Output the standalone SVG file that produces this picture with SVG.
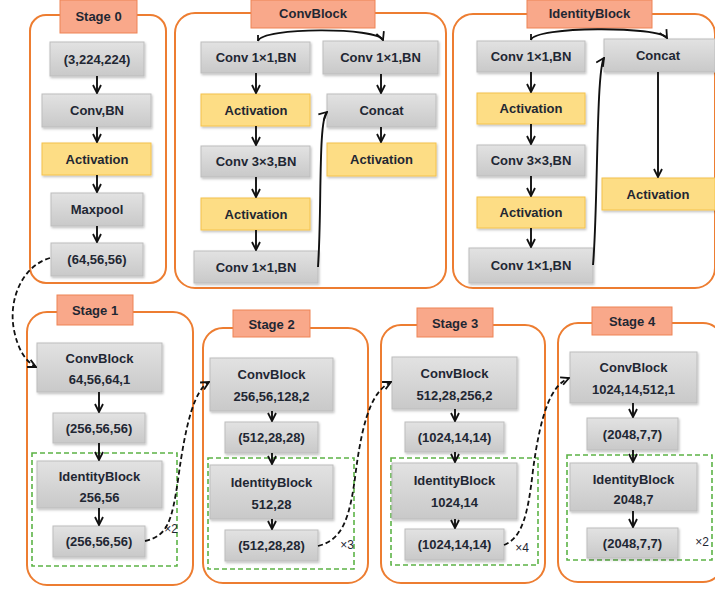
<svg xmlns="http://www.w3.org/2000/svg" width="715" height="590" viewBox="0 0 715 590">
<style>
.cont{fill:#ffffff;stroke:#ed7d31;stroke-width:2}
.title{fill:#f9a88a;stroke:#ee8355;stroke-width:1}
.g{fill:url(#gg);stroke:#bdbdbd;stroke-width:1;filter:url(#sh)}
.y{fill:#fddd85;stroke:#f4c24a;stroke-width:1;filter:url(#sh)}
.dash{fill:none;stroke:#5cb346;stroke-width:1.6;stroke-dasharray:5,3}
text{font-family:"Liberation Sans",Arial,sans-serif;font-weight:bold;font-size:13px;fill:#1f2733;text-anchor:middle;dominant-baseline:central}
.ar{fill:none;stroke:#111;stroke-width:1.9;marker-end:url(#ah)}
.dl{fill:none;stroke:#111;stroke-width:1.8;stroke-dasharray:5,3;marker-end:url(#ah)}
.sm{font-size:12px;font-weight:normal}
</style>
<defs>
<linearGradient id="gg" x1="0" y1="0" x2="0" y2="1">
<stop offset="0" stop-color="#e2e2e2"/>
<stop offset="1" stop-color="#c9c9c9"/>
</linearGradient>
<filter id="sh" x="-10%" y="-10%" width="125%" height="135%">
<feDropShadow dx="1" dy="1.5" stdDeviation="1" flood-color="#000" flood-opacity="0.25"/>
</filter>
<marker id="ah" viewBox="0 0 10 10" refX="9" refY="5" markerWidth="10" markerHeight="10" markerUnits="userSpaceOnUse" orient="auto">
<path d="M1,1 L9,5 L1,9" fill="none" stroke="#111" stroke-width="1.8"/>
</marker>
</defs>
<rect width="715" height="590" fill="#ffffff"/>

<!-- Stage 0 -->
<g id="stage0">
<rect class="cont" x="30" y="15" width="136" height="268" rx="16"/>
<rect class="title" x="60" y="0" width="77" height="33"/>
<text x="98.5" y="16">Stage 0</text>
<rect class="g" x="50" y="42" width="94" height="34"/><text x="97" y="59">(3,224,224)</text>
<rect class="g" x="42" y="94" width="109" height="33"/><text x="97" y="110.5">Conv,BN</text>
<rect class="y" x="42" y="143" width="109" height="32"/><text x="97" y="159">Activation</text>
<rect class="g" x="51" y="193" width="92" height="33"/><text x="97" y="209.5">Maxpool</text>
<rect class="g" x="51" y="243" width="92" height="33"/><text x="97" y="259.5">(64,56,56)</text>
</g>

<!-- ConvBlock -->
<g id="convblock">
<rect class="cont" x="175" y="13" width="271" height="275" rx="20"/>
<rect class="title" x="251" y="0" width="124" height="28"/>
<text x="313" y="13">ConvBlock</text>
<rect class="g" x="201" y="42" width="109" height="31"/><text x="256" y="57.5">Conv 1×1,BN</text>
<rect class="y" x="201" y="94" width="109" height="32"/><text x="256" y="110">Activation</text>
<rect class="g" x="201" y="146" width="109" height="31"/><text x="256" y="161.5">Conv 3×3,BN</text>
<rect class="y" x="201" y="198" width="109" height="32"/><text x="256" y="214">Activation</text>
<rect class="g" x="194" y="251" width="124" height="32"/><text x="256" y="267">Conv 1×1,BN</text>
<rect class="g" x="323" y="41" width="115" height="33"/><text x="380.5" y="57.5">Conv 1×1,BN</text>
<rect class="g" x="327" y="94" width="109" height="33"/><text x="381.5" y="110.5">Concat</text>
<rect class="y" x="327" y="143" width="109" height="33"/><text x="381.5" y="159.5">Activation</text>
</g>

<!-- IdentityBlock -->
<g id="identityblock">
<rect class="cont" x="453" y="14" width="262" height="274" rx="20"/>
<rect class="title" x="527" y="0" width="125" height="28"/>
<text x="589.5" y="13">IdentityBlock</text>
<rect class="g" x="477" y="41" width="108" height="31"/><text x="531" y="56.5">Conv 1×1,BN</text>
<rect class="y" x="477" y="93" width="108" height="31"/><text x="531" y="108.5">Activation</text>
<rect class="g" x="477" y="145" width="108" height="31"/><text x="531" y="160.5">Conv 3×3,BN</text>
<rect class="y" x="477" y="197" width="108" height="31"/><text x="531" y="212.5">Activation</text>
<rect class="g" x="469" y="248" width="124" height="35"/><text x="531" y="265.5">Conv 1×1,BN</text>
<rect class="g" x="604" y="39" width="111" height="33"/><text x="658" y="55.5">Concat</text>
<rect class="y" x="602" y="178" width="113" height="32"/><text x="658" y="194">Activation</text>
</g>

<!-- Stage 1 -->
<g id="stage1">
<rect class="cont" x="27" y="312" width="166" height="273" rx="20"/>
<rect class="title" x="57" y="295" width="76" height="30"/>
<text x="95" y="310">Stage 1</text>
<rect class="g" x="37" y="343" width="125" height="49"/><text x="99.5" y="358">ConvBlock</text><text x="99.5" y="379">64,56,64,1</text>
<rect class="g" x="53" y="413" width="92" height="30"/><text x="99" y="428">(256,56,56)</text>
<rect class="dash" x="32" y="453" width="145" height="113"/>
<rect class="g" x="37" y="461" width="125" height="47"/><text x="99.5" y="476">IdentityBlock</text><text x="99.5" y="497">256,56</text>
<rect class="g" x="53" y="526" width="92" height="31"/><text x="99" y="541.5">(256,56,56)</text>
<text class="sm" x="171" y="529">×2</text>
</g>

<!-- Stage 2 -->
<g id="stage2">
<rect class="cont" x="203" y="328" width="165" height="255" rx="20"/>
<rect class="title" x="233" y="310" width="77" height="27"/>
<text x="271.5" y="324">Stage 2</text>
<rect class="g" x="210" y="358" width="123" height="53"/><text x="271.5" y="374">ConvBlock</text><text x="271.5" y="396">256,56,128,2</text>
<rect class="g" x="225" y="422" width="93" height="31"/><text x="271.5" y="437.5">(512,28,28)</text>
<rect class="dash" x="208" y="458" width="146" height="111"/>
<rect class="g" x="210" y="465" width="123" height="54"/><text x="271.5" y="482">IdentityBlock</text><text x="271.5" y="504">512,28</text>
<rect class="g" x="225" y="530" width="93" height="31"/><text x="271.5" y="545.5">(512,28,28)</text>
<text class="sm" x="347" y="545">×3</text>
</g>

<!-- Stage 3 -->
<g id="stage3">
<rect class="cont" x="381" y="325" width="164" height="258" rx="20"/>
<rect class="title" x="417" y="308" width="76" height="29"/>
<text x="455" y="323">Stage 3</text>
<rect class="g" x="392" y="357" width="125" height="52"/><text x="454.5" y="373">ConvBlock</text><text x="454.5" y="395">512,28,256,2</text>
<rect class="g" x="405" y="422" width="99" height="30"/><text x="454.5" y="437">(1024,14,14)</text>
<rect class="dash" x="391" y="458" width="147" height="107"/>
<rect class="g" x="392" y="463" width="125" height="56"/><text x="454.5" y="480">IdentityBlock</text><text x="454.5" y="502">1024,14</text>
<rect class="g" x="405" y="529" width="99" height="31"/><text x="454.5" y="544.5">(1024,14,14)</text>
<text class="sm" x="522" y="548">×4</text>
</g>

<!-- Stage 4 -->
<g id="stage4">
<rect class="cont" x="558" y="323" width="165" height="259" rx="20"/>
<rect class="title" x="592" y="307" width="80" height="28"/>
<text x="632" y="321">Stage 4</text>
<rect class="g" x="570" y="352" width="127" height="51"/><text x="633.5" y="367">ConvBlock</text><text x="633.5" y="389">1024,14,512,1</text>
<rect class="g" x="587" y="418" width="91" height="32"/><text x="632.5" y="434">(2048,7,7)</text>
<rect class="dash" x="567" y="455" width="145" height="105"/>
<rect class="g" x="570" y="463" width="127" height="48"/><text x="633.5" y="479">IdentityBlock</text><text x="633.5" y="499">2048,7</text>
<rect class="g" x="587" y="528" width="91" height="30"/><text x="632.5" y="543">(2048,7,7)</text>
<text class="sm" x="702" y="542">×2</text>
</g>

<g id="connectors">
<!-- Stage 0 -->
<line class="ar" x1="97" y1="76" x2="97" y2="93"/>
<line class="ar" x1="97" y1="127" x2="97" y2="142"/>
<line class="ar" x1="97" y1="175" x2="97" y2="192"/>
<line class="ar" x1="97" y1="226" x2="97" y2="242"/>
<!-- ConvBlock -->
<line class="ar" x1="256" y1="73" x2="256" y2="93"/>
<line class="ar" x1="256" y1="126" x2="256" y2="145"/>
<line class="ar" x1="256" y1="177" x2="256" y2="197"/>
<line class="ar" x1="256" y1="230" x2="256" y2="250"/>
<line class="ar" x1="381" y1="74" x2="381" y2="93"/>
<line class="ar" x1="381" y1="127" x2="381" y2="142"/>
<path class="ar" d="M258,41 C262,27 378,27 383,40"/>
<path d="M258,41 L258,35" fill="none" stroke="#111" stroke-width="1.8"/>
<path class="ar" d="M318,267 C322,210 318,120 327,112"/>
<!-- IdentityBlock -->
<line class="ar" x1="531" y1="72" x2="531" y2="92"/>
<line class="ar" x1="531" y1="124" x2="531" y2="144"/>
<line class="ar" x1="531" y1="176" x2="531" y2="196"/>
<line class="ar" x1="531" y1="228" x2="531" y2="247"/>
<line class="ar" x1="658" y1="72" x2="658" y2="177"/>
<path class="ar" d="M531,40 C534,26 660,26 667,38"/>
<path d="M531,40 L531,34" fill="none" stroke="#111" stroke-width="1.8"/>
<path class="ar" d="M593,265 C598,210 596,70 604,58"/>
<!-- Stage 1 -->
<line class="ar" x1="99" y1="392" x2="99" y2="412"/>
<line class="ar" x1="99" y1="443" x2="99" y2="460"/>
<line class="ar" x1="99" y1="508" x2="99" y2="525"/>
<!-- Stage 2 -->
<line class="ar" x1="272" y1="411" x2="272" y2="421"/>
<line class="ar" x1="272" y1="453" x2="272" y2="464"/>
<line class="ar" x1="272" y1="519" x2="272" y2="529"/>
<!-- Stage 3 -->
<line class="ar" x1="455" y1="409" x2="455" y2="421"/>
<line class="ar" x1="455" y1="452" x2="455" y2="462"/>
<line class="ar" x1="455" y1="519" x2="455" y2="528"/>
<!-- Stage 4 -->
<line class="ar" x1="633" y1="403" x2="633" y2="417"/>
<line class="ar" x1="633" y1="450" x2="633" y2="462"/>
<line class="ar" x1="633" y1="511" x2="633" y2="527"/>
<!-- dashed stage links -->
<path class="dl" d="M50,258 C22,266 8,300 14,330 C18,350 26,362 36,367"/>
<path class="dl" d="M145,541 C168,536 172,520 178,480 C186,420 195,390 209,382"/>
<path class="dl" d="M318,546 C342,540 350,520 356,470 C364,410 375,390 391,382"/>
<path class="dl" d="M504,545 C522,538 528,515 533,470 C541,410 552,385 569,378"/>
</g>
</svg>
